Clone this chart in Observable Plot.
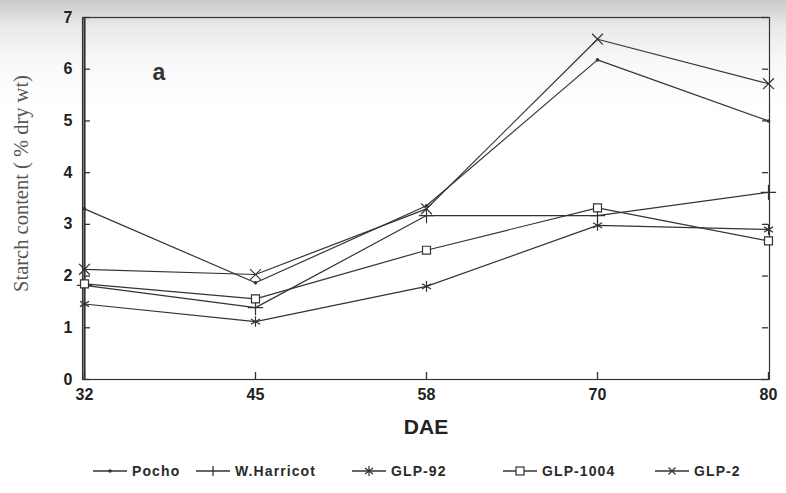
<!DOCTYPE html>
<html>
<head>
<meta charset="utf-8">
<script src="https://cdn.jsdelivr.net/npm/d3@7"></script>
<script src="https://cdn.jsdelivr.net/npm/@observablehq/plot@0.6"></script>
<style>
  html, body { margin: 0; padding: 0; }
  body {
    width: 786px; height: 493px; overflow: hidden; position: relative;
    background: linear-gradient(to bottom, #c9c9c9 0px, #e8e8e8 25px, #f8f8f8 60px, #ffffff 110px);
    font-family: "Liberation Sans", Arial, sans-serif;
  }
  #chart { position: absolute; left: 0; top: 0; }
  #legend { position: absolute; left: 0; top: 463px; width: 786px; height: 22px; }
  .item { position: absolute; top: 0; display: flex; align-items: center; gap: 5px;
          font-weight: bold; font-size: 14px; letter-spacing: 1.1px; color: #2a2a2a; }
  .item svg { display: block; }
</style>
</head>
<body>
<div id="chart"></div>
<div id="legend"></div>
<script>
// ---- data ----
const dae = [32, 45, 58, 70, 80];
const series = ["Pocho", "W.Harricot", "GLP-92", "GLP-1004", "GLP-2"];
const pocho    = [3.30, 1.87, 3.36, 6.18, 5.00];
const harricot = [1.82, 1.39, 3.17, 3.17, 3.62];
const glp92    = [1.46, 1.12, 1.80, 2.98, 2.90];
const glp1004  = [1.85, 1.56, 2.50, 3.32, 2.68];
const glp2     = [2.13, 2.03, 3.30, 6.58, 5.72];
const yTicks = [0, 1, 2, 3, 4, 5, 6, 7];
const yLabel = "Starch content ( % dry wt)";
const xLabel = "DAE";
const panel = "a";

const values = [pocho, harricot, glp92, glp1004, glp2];
const rows = [];
series.forEach((s, i) => dae.forEach((d, j) => rows.push({s, dae: d, v: values[i][j]})));
const of = s => rows.filter(r => r.s === s);

const ink = "#333";
const tickFont = {fontSize: 16, fontWeight: "bold", fill: "#222"};
const first = dae[0], last = dae[dae.length - 1], y0 = yTicks[0];
const leftTicks = yTicks.map(v => ({x: first, y: v}));
const rightTicks = yTicks.map(v => ({x: last, y: v}));
const bottomTicks = dae.map(d => ({x: d, y: y0}));

const plot = Plot.plot({
  width: 786, height: 450,
  marginLeft: 82, marginRight: 17, marginTop: 17, marginBottom: 71,
  style: {background: "transparent", fontFamily: "'Liberation Sans', Arial, sans-serif", color: "#222"},
  x: {type: "point", domain: dae, padding: 0},
  y: {domain: [0, 7]},
  marks: [
    Plot.frame({stroke: ink, strokeWidth: 1.2}),
    Plot.ruleX([first], {stroke: ink, strokeWidth: 2.2}),
    // inward ticks
    Plot.ruleY(leftTicks, {x1: "x", x2: "x", y: "y", insetRight: -6, stroke: ink, strokeWidth: 1.3}),
    Plot.ruleY(rightTicks, {x1: "x", x2: "x", y: "y", insetLeft: -6, stroke: ink, strokeWidth: 1.3}),
    Plot.ruleX(bottomTicks, {x: "x", y1: "y", y2: "y", insetTop: -7, stroke: ink, strokeWidth: 1.3}),
    // labels
    Plot.axisY({anchor: "left", ticks: yTicks, tickFormat: "d", tickSize: 0, tickPadding: 10, label: null, ...tickFont}),
    Plot.axisX({anchor: "bottom", ticks: dae, tickSize: 0, tickPadding: 9, label: null, ...tickFont}),
    Plot.text([xLabel], {frameAnchor: "bottom", dy: 54, fontSize: 21, fontWeight: "bold", fill: "#222"}),
    Plot.text([yLabel], {frameAnchor: "left", dx: -61, dy: -15, rotate: -90, textAnchor: "middle", fontSize: 20.5,
      fontFamily: "'Liberation Serif', 'DejaVu Serif', serif", fill: "#555"}),
    Plot.text([panel], {frameAnchor: "top-left", dx: 70, dy: 46, fontSize: 23, fontWeight: "bold", fill: "#333"}),
    // lines
    Plot.line(rows, {x: "dae", y: "v", z: "s", stroke: ink, strokeWidth: 1.2}),
    // markers
    Plot.dot(of("Pocho"), {x: "dae", y: "v", r: 1.8, fill: ink}),
    Plot.dot(of("W.Harricot"), {x: "dae", y: "v", symbol: "plus", r: 5, stroke: ink, strokeWidth: 1.2}),
    Plot.dot(of("GLP-92"), {x: "dae", y: "v", symbol: "asterisk", r: 5, stroke: ink, strokeWidth: 1.2}),
    Plot.dot(of("GLP-1004"), {x: "dae", y: "v", symbol: "square", r: 4.5, stroke: ink, fill: "white", strokeWidth: 1.2}),
    Plot.dot(of("GLP-2"), {x: "dae", y: "v", symbol: "times", r: 5, stroke: ink, strokeWidth: 1.2})
  ]
});
document.getElementById("chart").appendChild(plot);

// ---- legend ----
const legendLeft = [93, 196, 352, 503, 655];
const swatch = (name) => {
  const c = ink;
  let m = "";
  if (name === "Pocho") m = `<circle cx="17" cy="7" r="1.8" fill="${c}"/>`;
  if (name === "W.Harricot") m = `<path d="M17,2V12" stroke="${c}" stroke-width="1.3"/>`;
  if (name === "GLP-92") m = `<path d="M17,2V12M13,4L21,10M21,4L13,10" stroke="${c}" stroke-width="1.2"/>`;
  if (name === "GLP-1004") m = `<rect x="13" y="3" width="8" height="8" fill="white" stroke="${c}" stroke-width="1.2"/>`;
  if (name === "GLP-2") m = `<path d="M13.5,3.5L20.5,10.5M20.5,3.5L13.5,10.5" stroke="${c}" stroke-width="1.2"/>`;
  return `<svg width="34" height="14"><path d="M0,7H34" stroke="${c}" stroke-width="1.3"/>${m}</svg>`;
};
const legend = document.getElementById("legend");
series.forEach((s, i) => {
  const el = document.createElement("div");
  el.className = "item";
  el.style.left = legendLeft[i] + "px";
  el.innerHTML = swatch(s) + `<span>${s}</span>`;
  legend.appendChild(el);
});
</script>
</body>
</html>
